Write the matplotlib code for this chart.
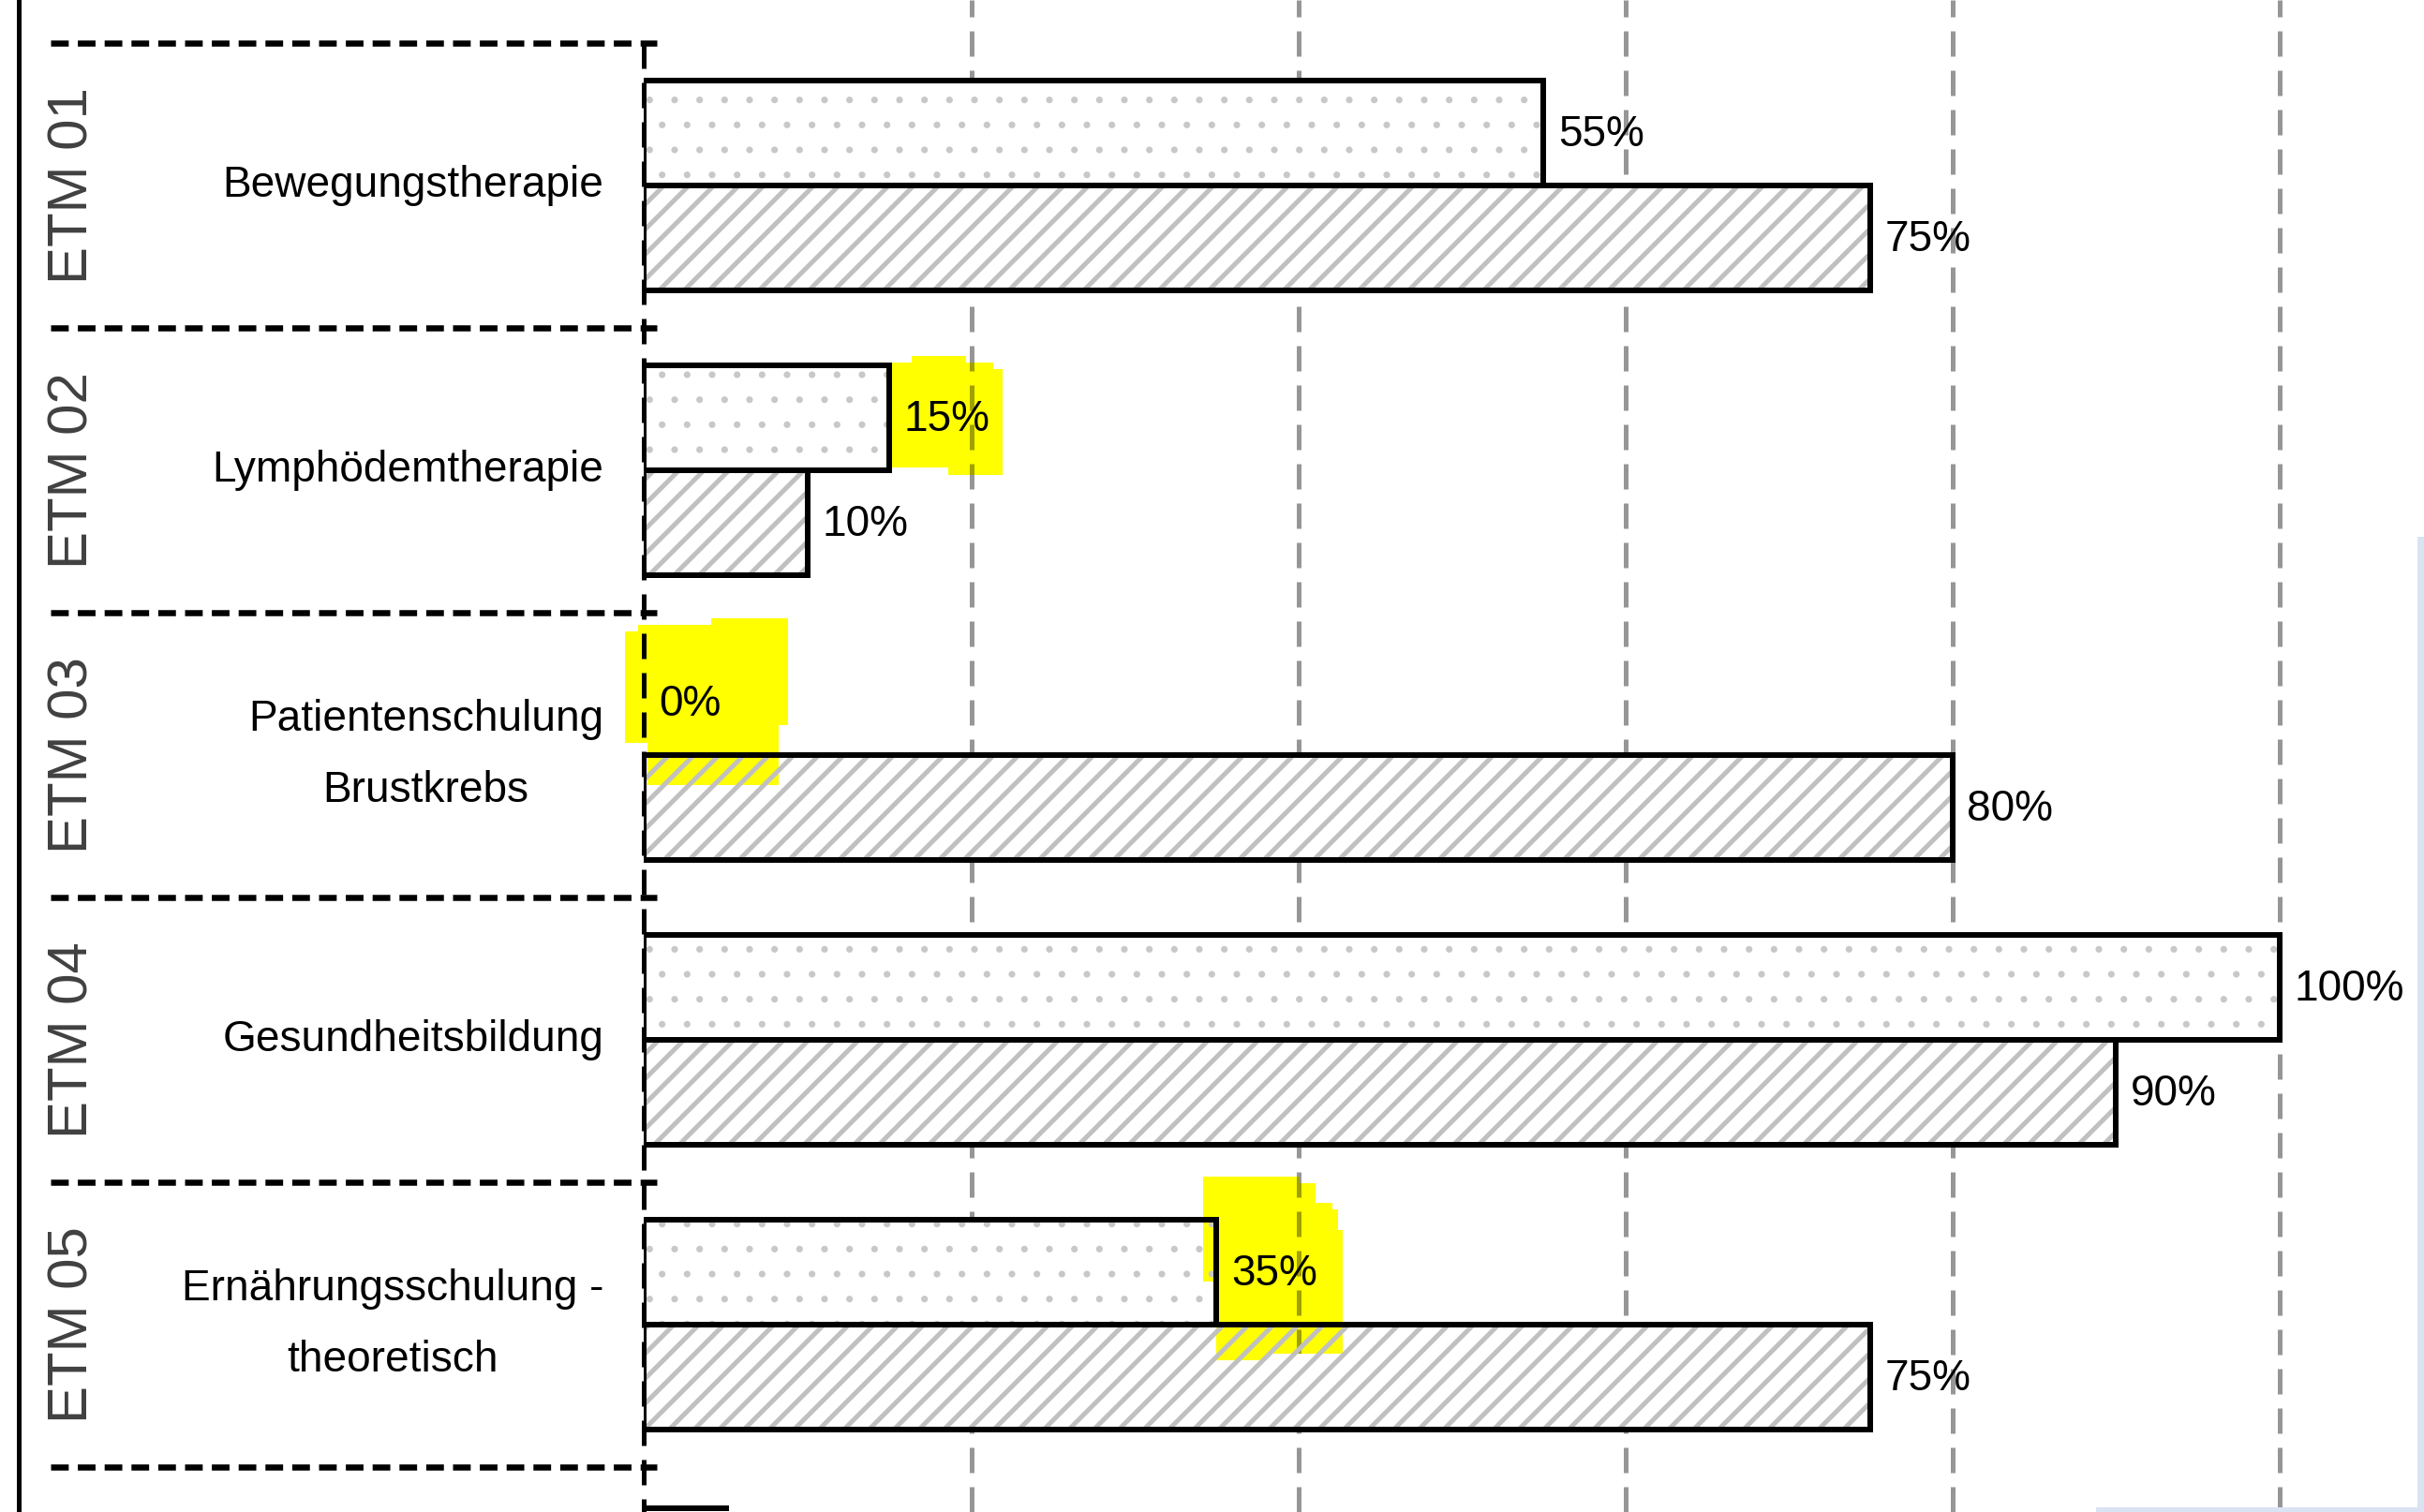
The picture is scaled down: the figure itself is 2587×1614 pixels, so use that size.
import matplotlib
matplotlib.use("Agg")
import matplotlib.pyplot as plt
import matplotlib.transforms as mtransforms
from matplotlib import font_manager
from matplotlib.lines import Line2D
from matplotlib.patches import Polygon, Rectangle

# Module codes, titles and shares (in %) for the two groups
codes = ["ETM 01", "ETM 02", "ETM 03", "ETM 04", "ETM 05"]
therapies = ["Bewegungstherapie", "Lymphödemtherapie", "Patientenschulung\nBrustkrebs",
             "Gesundheitsbildung", "Ernährungsschulung -\ntheoretisch"]
share_dotted = [55, 15, 0, 100, 35]
share_hatched = [75, 10, 80, 90, 75]
grid_ticks = [20, 40, 60, 80, 100]

# labels of the dotted bars that were marked with a highlighter
marked = {1: [(0, .053), (.2, .053), (.2, 0), (.68, 0), (.68, .053), (.92, .053), (.92, .105),
              (1, .105), (1, 1), (.52, 1), (.52, .94), (0, .94)],
          2: [(0, .08), (.08, .08), (.08, .04), (.53, .04), (.53, 0), (1, 0), (1, .64), (.94, .64),
              (.94, 1), (.14, 1), (.14, .75), (0, .75)],
          4: [(0, 0), (.69, 0), (.69, .034), (.81, .034), (.81, .144), (.93, .144), (.93, .18),
              (.97, .18), (.97, .29), (1, .29), (1, .966), (.45, .966), (.45, 1), (.09, 1),
              (.09, .57), (0, .57)]}
marked_box = {1: (0, 6.9, -0.40, 0.016), 2: (-1.2, 8.8, -0.48, 0.105), 4: (-0.8, 7.7, -0.52, 0.125)}

DPI = 160
W, H = 2587, 1614
PX = 72 / DPI  # points per pixel

names = {f.name for f in font_manager.fontManager.ttflist}
if "Liberation Sans Narrow" in names:
    label_font, label_size = "Liberation Sans Narrow", 54 * PX
else:
    label_font, label_size = "Liberation Sans", 46 * PX
plt.rcParams["font.family"] = [label_font, "DejaVu Sans"]

fig = plt.figure(figsize=(W / DPI, H / DPI), dpi=DPI)
x0_px = 687.5
ax = fig.add_axes([x0_px / W, 0, 1 - x0_px / W, 1])
ax.set_xlim(0, (W - x0_px) / 17.45)
y_bottom, y_top = 4 + (H - 1414) / 304, -198 / 304
ax.set_ylim(y_bottom, y_top)
ax.axis("off")

trans = mtransforms.blended_transform_factory(ax.transAxes, ax.transData)
ypos = list(range(len(codes)))
bar_h = 0.3675
y_dot = [y - bar_h / 2 for y in ypos]
y_hat = [y + bar_h / 2 for y in ypos]

grid_lw = 5 * PX
grid_dash = (5.4, 3.0)
for gx in grid_ticks:
    ax.plot([gx, gx], [y_bottom, y_top], color="#969696", lw=grid_lw, dashes=grid_dash, zorder=0)

# white bar bodies
ax.barh(y_dot, share_dotted, height=bar_h, color="white", lw=0, zorder=1)
ax.barh(y_hat, share_hatched, height=bar_h, color="white", lw=0, zorder=1)

# highlighter marks behind the dotted-bar labels
for i, shape in marked.items():
    dx0, dx1, dy0, dy1 = marked_box[i]
    bx0, by0 = share_dotted[i] + dx0, ypos[i] + dy0
    bw, bh = dx1 - dx0, dy1 - dy0
    poly = Polygon([(bx0 + u * bw, by0 + v * bh) for u, v in shape], closed=True,
                   facecolor="#ffff00", edgecolor="none", zorder=1.5, clip_on=False)
    ax.add_patch(poly)
    for gx in grid_ticks:
        ln, = ax.plot([gx, gx], [y_bottom, y_top], color="#a0a000", lw=grid_lw,
                      dashes=grid_dash, zorder=1.6)
        ln.set_clip_path(poly)

# hatch layers
with plt.rc_context({"hatch.linewidth": 0.8}):
    dots = ax.barh(y_dot, share_dotted, height=bar_h, color="none", edgecolor="#c8c8c8",
                   hatch=".", lw=0, zorder=2)
with plt.rc_context({"hatch.linewidth": 5 * PX}):
    stripes = ax.barh(y_hat, share_hatched, height=bar_h, color="none", edgecolor="#c0c0c0",
                      hatch="//", lw=0, zorder=2)

# outlines
edge_lw = 6 * PX
ax.barh(y_dot, share_dotted, height=bar_h, color="none", edgecolor="black",
        lw=[edge_lw if v > 0 else 0 for v in share_dotted], zorder=3)
ax.barh(y_hat, share_hatched, height=bar_h, color="none", edgecolor="black",
        lw=[edge_lw if v > 0 else 0 for v in share_hatched], zorder=3)

# category axis: dashed line at zero and a short base line
ax.plot([0, 0], [-0.5, y_bottom], color="black", lw=grid_lw, dashes=grid_dash, zorder=3.5,
        clip_on=False)
ax.plot([0, 5.2], [4.645, 4.645], color="black", lw=6 * PX, solid_capstyle="butt",
        zorder=3.5, clip_on=False)

# group separators
for s in [y - 0.5 for y in ypos] + [ypos[-1] + 0.5]:
    ax.plot([-0.3335, 0.0071], [s, s], transform=trans, color="black", lw=6.5 * PX,
            dashes=(2.9, 1.5), solid_capstyle="butt", clip_on=False, zorder=3)

# text
for y, code, name in zip(ypos, codes, therapies):
    ax.text(-0.0229, y, name, transform=trans, ha="right", va="center", multialignment="center",
            fontsize=label_size, family=[label_font, "DejaVu Sans"], linespacing=1.95)
    ax.text(-0.3209, y, code, transform=trans, ha="center", va="center", rotation=90,
            fontsize=60 * PX, color="#404040", family=["Liberation Sans", "DejaVu Sans"])

for yd, yh, vd, vh in zip(y_dot, y_hat, share_dotted, share_hatched):
    for v, yy in ((vd, yd), (vh, yh)):
        ax.annotate(f"{v}%", xy=(v, yy), xytext=(7, -1), textcoords="offset points",
                    ha="left", va="center", fontsize=label_size, zorder=4,
                    family=[label_font, "DejaVu Sans"])

# left border and window edge
fig.add_artist(Line2D([20 / W, 20 / W], [0, 1], color="black", lw=5 * PX))
fig.add_artist(Rectangle((2580 / W, 0), 7 / W, (H - 573) / H, transform=fig.transFigure,
                         facecolor="#dae3f3", edgecolor="none"))
fig.add_artist(Rectangle((2237 / W, 0), 350 / W, 5 / H, transform=fig.transFigure,
                         facecolor="#dae3f3", edgecolor="none"))

fig.savefig("out.png", dpi=DPI, facecolor="white")
